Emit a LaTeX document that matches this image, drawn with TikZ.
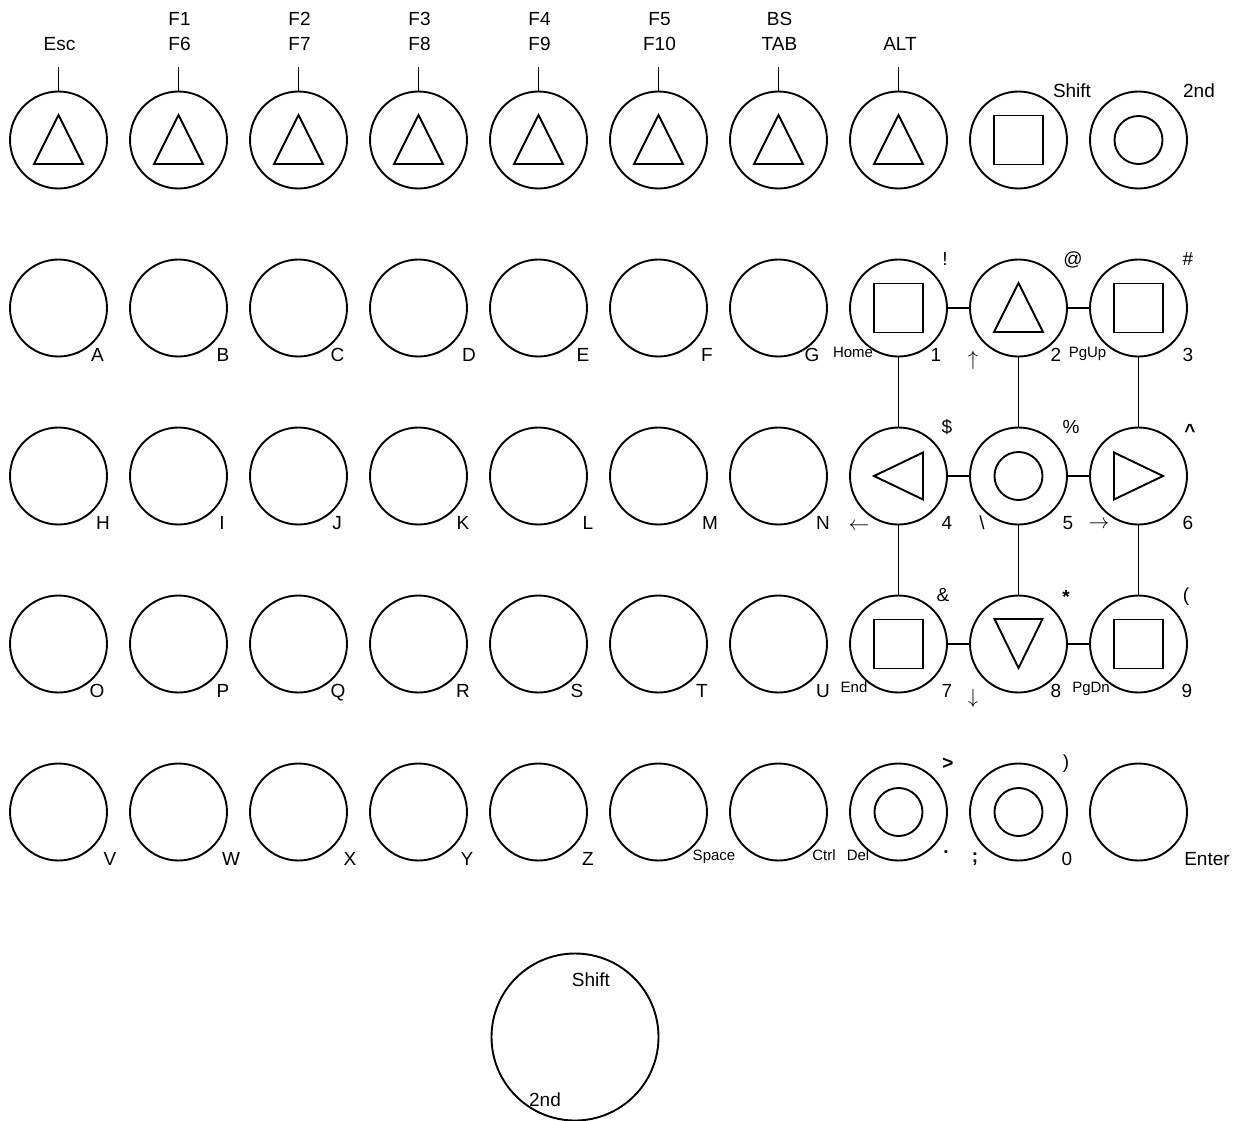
\documentclass[tikz,border=0pt]{standalone}
\usepackage{fontspec}
\setmainfont{Liberation Sans}
\tikzset{
  key/.style={circle, draw, line width=1.9pt, minimum size=97pt, inner sep=0pt},
  bigkey/.style={circle, draw, line width=1.9pt, minimum size=167pt, inner sep=0pt},
  sym/.style={line width=1.9pt},
  link/.style={line width=1.9pt},
  lbl/.style={font=\fontsize{19}{21}\selectfont, inner sep=0pt, anchor=base},
  sml/.style={font=\fontsize{15}{17}\selectfont, inner sep=0pt, anchor=base},
  arr/.style={font=\fontsize{22}{24}\selectfont, inner sep=0pt, anchor=center},
}
\newcommand\TriUp[1]{\draw[sym] (#1.center) ++(0,-25) -- ++(24.5,49) -- ++(-49,0) -- cycle;}
\newcommand\TriDown[1]{\draw[sym] (#1.center) ++(0,24) -- ++(24,-49) -- ++(-48,0) -- cycle;}
\newcommand\TriLeft[1]{\draw[sym] (#1.center) ++(-24.5,0) -- ++(49,-23.5) -- ++(0,47) -- cycle;}
\newcommand\TriRight[1]{\draw[sym] (#1.center) ++(24.5,0) -- ++(-49,-23.5) -- ++(0,47) -- cycle;}
\newcommand\SqIn[1]{\draw[sym] (#1.center) ++(-24.5,-24.5) rectangle ++(49,49);}
\newcommand\CirIn[1]{\draw[sym] (#1.center) circle[radius=24];}
\begin{document}
\begin{tikzpicture}[x=1pt,y=-1pt]
\useasboundingbox (0,0) rectangle (1241,1120);
% keys
\foreach \r/\yy in {0/140,1/308,2/476,3/644,4/812}{
  \foreach \c in {0,...,9}{
    \node[key] (k\r\c) at ({58.5+120*\c},\yy) {};
  }
}
\node[bigkey] (big) at (575,1037) {};
% inner symbols row 0
\foreach \c in {0,...,7}{ \TriUp{k0\c} \draw[link] (k0\c.north) -- ++(0,-24); }
\SqIn{k08}
\CirIn{k09}
% keypad
\SqIn{k17} \TriUp{k18} \SqIn{k19}
\TriLeft{k27} \CirIn{k28} \TriRight{k29}
\SqIn{k37} \TriDown{k38} \SqIn{k39}
\CirIn{k47} \CirIn{k48}
% connectors
\draw[link] (k17) -- (k18); \draw[link] (k18) -- (k19);
\draw[link] (k27) -- (k28); \draw[link] (k28) -- (k29);
\draw[link] (k37) -- (k38); \draw[link] (k38) -- (k39);
\draw[link] (k17) -- (k27); \draw[link] (k27) -- (k37);
\draw[link] (k18) -- (k28); \draw[link] (k28) -- (k38);
\draw[link] (k19) -- (k29); \draw[link] (k29) -- (k39);
% top labels
\node[lbl] (tEsc) at (59.5,50) {Esc};
\node[lbl] (tF1) at (179.5,25) {F1};
\node[lbl] (tF6) at (179.5,50) {F6};
\node[lbl] (tF2) at (299.5,25) {F2};
\node[lbl] (tF7) at (299.5,50) {F7};
\node[lbl] (tF3) at (419.5,25) {F3};
\node[lbl] (tF8) at (419.5,50) {F8};
\node[lbl] (tF4) at (539.5,25) {F4};
\node[lbl] (tF9) at (539.5,50) {F9};
\node[lbl] (tF5) at (659.5,25) {F5};
\node[lbl] (tF10) at (659.5,50) {F10};
\node[lbl] (tBS) at (779.5,25) {BS};
\node[lbl] (tTAB) at (779.5,50) {TAB};
\node[lbl] (tALT) at (900,50) {ALT};
\node[lbl] (tShift) at (1072,97) {Shift};
\node[lbl] (t2nd) at (1199,97) {2nd};
% row 1
\node[lbl] (lA) at (97.5,361) {A};
\node[lbl] (lB) at (223,361) {B};
\node[lbl] (lC) at (337.5,361) {C};
\node[lbl] (lD) at (469,361) {D};
\node[lbl] (lE) at (583,361) {E};
\node[lbl] (lF) at (707,361) {F};
\node[lbl] (lG) at (812,361) {G};
\node[sml] (lHome) at (853,357) {Home};
\node[lbl] (l1) at (936,361) {1};
\node[arr] (lup) at (973,360) {$\uparrow$};
\node[lbl] (l2) at (1056,361) {2};
\node[sml] (lPgUp) at (1087.5,357) {PgUp};
\node[lbl] (l3) at (1188,361) {3};
\node[lbl] (lexc) at (945,265) {!};
\node[lbl] (lat) at (1073,265) {@};
\node[lbl] (lhash) at (1188,265) {\#};
% row 2
\node[lbl] (lH) at (103,529) {H};
\node[lbl] (lI) at (222,529) {I};
\node[lbl] (lJ) at (337,529) {J};
\node[lbl] (lK) at (463,529) {K};
\node[lbl] (lL) at (588,529) {L};
\node[lbl] (lM) at (710,529) {M};
\node[lbl] (lN) at (823,529) {N};
\node[arr] (lleft) at (859,527) {$\leftarrow$};
\node[lbl] (l4) at (947,529) {4};
\node[lbl] (lbs) at (982,529) {\textbackslash};
\node[lbl] (l5) at (1068,529) {5};
\node[arr] (lright) at (1099,525) {$\rightarrow$};
\node[lbl] (l6) at (1188,529) {6};
\node[lbl] (ldollar) at (947,433) {\$};
\node[lbl] (lpct) at (1071,433) {\%};
\node[lbl] (lcaret) at (1190,437) {\bfseries\textasciicircum};
% row 3
\node[lbl] (lO) at (97,697) {O};
\node[lbl] (lP) at (223,697) {P};
\node[lbl] (lQ) at (338,697) {Q};
\node[lbl] (lR) at (463,697) {R};
\node[lbl] (lS) at (577,697) {S};
\node[lbl] (lT) at (702,697) {T};
\node[lbl] (lU) at (823,697) {U};
\node[sml] (lEnd) at (854,692) {End};
\node[lbl] (l7) at (947,697) {7};
\node[arr] (ldown) at (973,698) {$\downarrow$};
\node[lbl] (l8) at (1056,697) {8};
\node[sml] (lPgDn) at (1091,692) {PgDn};
\node[lbl] (l9) at (1187,697) {9};
\node[lbl] (lamp) at (943,601) {\&};
\node[lbl] (last) at (1066,603) {\bfseries *};
\node[lbl] (lparen) at (1186,601) {(};
% row 4
\node[lbl] (lV) at (110,865) {V};
\node[lbl] (lW) at (231,865) {W};
\node[lbl] (lX) at (350,865) {X};
\node[lbl] (lY) at (467,865) {Y};
\node[lbl] (lZ) at (588,865) {Z};
\node[sml] (lSpace) at (714,860) {Space};
\node[sml] (lCtrl) at (824,860) {Ctrl};
\node[sml] (lDel) at (858,860) {Del};
\node[lbl] (ldot) at (946,853) {\bfseries .};
\node[lbl] (lsemi) at (975,862) {\bfseries ;};
\node[lbl] (l0) at (1067,865) {0};
\node[lbl] (lEnter) at (1207,865) {Enter};
\node[lbl] (lgt) at (948,769) {\bfseries >};
\node[lbl] (lrparen) at (1066,768) {)};
% big key
\node[lbl] (bShift) at (591,986) {Shift};
\node[lbl] (b2nd) at (545,1106) {2nd};
\end{tikzpicture}
\end{document}
